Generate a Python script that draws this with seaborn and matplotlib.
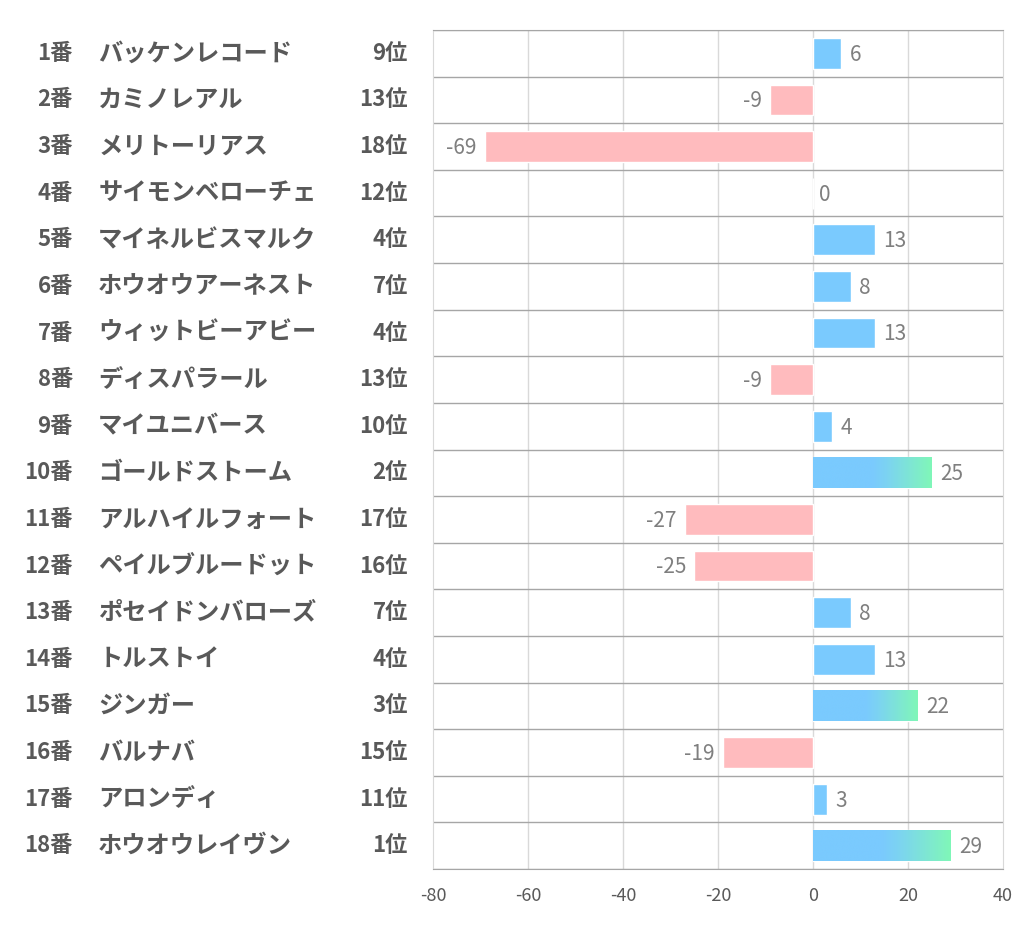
import matplotlib.pyplot as plt
import matplotlib.colors as mcolors
import matplotlib.transforms as mtransforms
import numpy as np
import pandas as pd
import seaborn as sns

# Data
gate = ["1番", "2番", "3番", "4番", "5番", "6番", "7番", "8番", "9番",
        "10番", "11番", "12番", "13番", "14番", "15番", "16番", "17番", "18番"]
horse = ["バッケンレコード", "カミノレアル", "メリトーリアス", "サイモンベローチェ",
         "マイネルビスマルク", "ホウオウアーネスト", "ウィットビーアビー", "ディスパラール",
         "マイユニバース", "ゴールドストーム", "アルハイルフォート", "ペイルブルードット",
         "ポセイドンバローズ", "トルストイ", "ジンガー", "バルナバ", "アロンディ",
         "ホウオウレイヴン"]
rank = ["9位", "13位", "18位", "12位", "4位", "7位", "4位", "13位", "10位",
        "2位", "17位", "16位", "7位", "4位", "3位", "15位", "11位", "1位"]
score = [6, -9, -69, 0, 13, 8, 13, -9, 4, 25, -27, -25, 8, 13, 22, -19, 3, 29]

BLUE = "#7ACAFE"
PINK = "#FFBBBE"
GREEN = "#80F7B8"
TXT = "#595959"
JP = ["Noto Sans CJK JP", "DejaVu Sans"]

df = pd.DataFrame({"row": gate, "score": score})
df["sign"] = np.where(df["score"] < 0, "neg", "pos")

sns.set_style("white")
plt.rcParams["font.family"] = JP
plt.rcParams["axes.unicode_minus"] = False

fig = plt.figure(figsize=(10.22, 9.39), dpi=100)
ax = fig.add_axes([0.4237, 0.0745, 0.5577, 0.8935])

sns.barplot(data=df, x="score", y="row", hue="sign", orient="h",
            palette={"pos": BLUE, "neg": PINK}, dodge=False, width=0.66,
            legend=False, ax=ax, saturation=1)

# gradient on the long bars: blue for the first half, then easing to green
cmap = mcolors.LinearSegmentedColormap.from_list(
    "bg", [(0, BLUE), (0.5, BLUE), (0.62, "#7CD3F2"), (1, GREEN)])
grad = np.linspace(0, 1, 512).reshape(1, -1)
for p in ax.patches:
    w = p.get_width()
    if w > 20:
        x0, y0, h = p.get_x(), p.get_y(), p.get_height()
        ax.imshow(grad, cmap=cmap, aspect="auto", interpolation="bilinear",
                  zorder=p.get_zorder() + 0.1, extent=[x0, x0 + w, y0 + h, y0])

ax.set_xlim(-80, 40)
ax.set_ylim(len(gate) - 0.5, -0.5)
ax.set_xticks(np.arange(-80, 41, 20))
ax.set_xlabel("")
ax.set_ylabel("")
ax.set_yticks([])
ax.tick_params(axis="x", length=0, pad=13, labelsize=13, labelcolor=TXT)

# grid: light verticals, darker row separators
for x in np.arange(-60, 21, 20):
    ax.axvline(x, color="#D9D9D9", lw=1, zorder=0)
for y in np.arange(-0.5, len(gate), 1):
    ax.axhline(y, color="#A6A6A6", lw=1, zorder=0.5)
for s in ["left", "right"]:
    ax.spines[s].set_color("#D9D9D9")
for s in ["top", "bottom"]:
    ax.spines[s].set_color("#A6A6A6")

# value labels
for i, v in enumerate(score):
    if v < 0:
        ax.annotate(str(v), (v, i), xytext=(-6, -1), textcoords="offset points",
                    ha="right", va="center", fontsize=15, color="#7F7F7F")
    else:
        ax.annotate(str(v), (v, i), xytext=(6 if v > 0 else 4, -1),
                    textcoords="offset points", ha="left", va="center",
                    fontsize=15, color="#7F7F7F")

# left-hand table
tr = mtransforms.blended_transform_factory(fig.transFigure, ax.transData)
for i in range(len(gate)):
    ax.text(0.0714, i, gate[i], transform=tr, ha="right", va="center",
            fontsize=16, fontweight="bold", color=TXT, clip_on=False)
    ax.text(0.096, i, horse[i], transform=tr, ha="left", va="center",
            fontsize=17.5, fontweight="bold", color=TXT, clip_on=False)
    ax.text(0.399, i, rank[i], transform=tr, ha="right", va="center",
            fontsize=16, fontweight="bold", color=TXT, clip_on=False)

fig.savefig("out.png", dpi=100, facecolor="white")
